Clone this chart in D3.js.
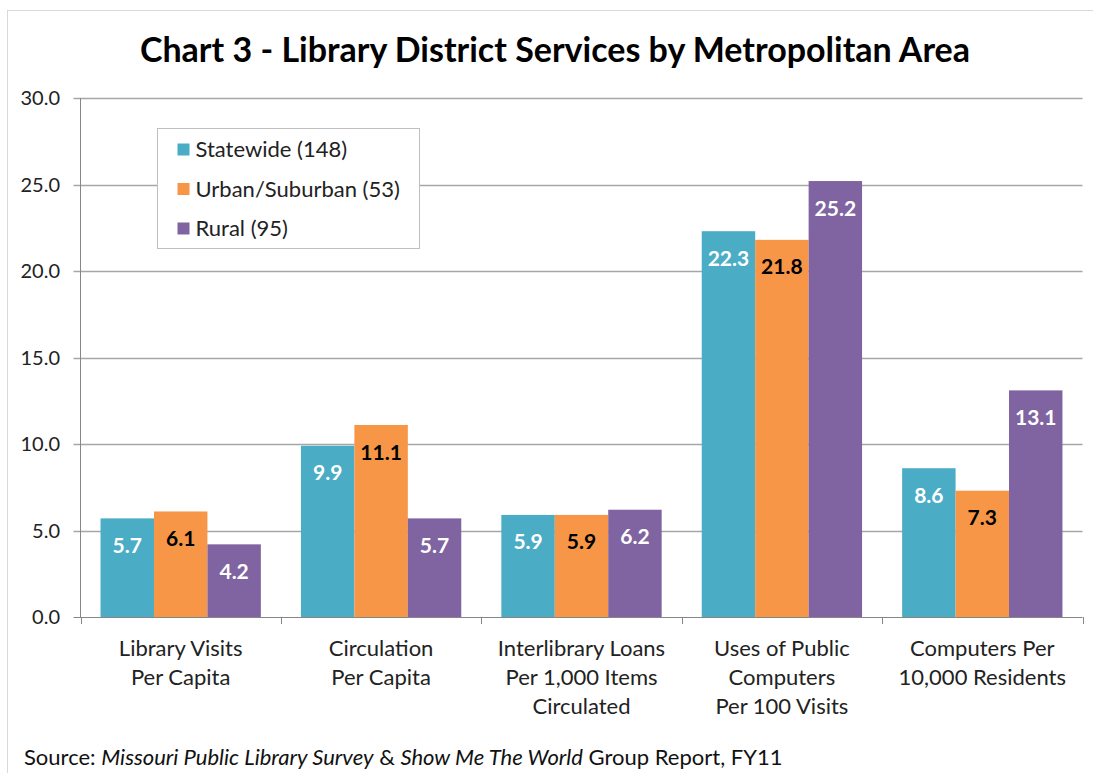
<!DOCTYPE html>
<html>
<head>
<meta charset="utf-8">
<script src="https://cdn.jsdelivr.net/npm/d3@7"></script>
<style>
  body { margin: 0; background: #fff; }
  svg text { font-family: Lato, "Open Sans", sans-serif; }
</style>
</head>
<body>
<script>
// chart data
var categories = [
    ["Library Visits", "Per Capita"],
    ["Circulation", "Per Capita"],
    ["Interlibrary Loans", "Per 1,000 Items", "Circulated"],
    ["Uses of Public", "Computers", "Per 100 Visits"],
    ["Computers Per", "10,000 Residents"]
];
var seriesNames = ["Statewide (148)", "Urban/Suburban (53)", "Rural (95)"];
var statewide = [5.7, 9.9, 5.9, 22.3, 8.6];
var urban = [6.1, 11.1, 5.9, 21.8, 7.3];
var rural = [4.2, 5.7, 6.2, 25.2, 13.1];
var yTicks = [0, 5, 10, 15, 20, 25, 30];

var colors = ["#4BACC6", "#F79646", "#8064A2"];
var labelColors = ["#fff", "#000", "#fff"];
var allSeries = [statewide, urban, rural];

var W = 1093, H = 773;
var plotLeft = 80.5, plotRight = 1082.5, plotTop = 98, plotBottom = 617;

var svg = d3.select("body").append("svg")
    .attr("width", W)
    .attr("height", H);

// outer border
svg.append("rect")
    .attr("x", 7.5).attr("y", 10.5)
    .attr("width", W).attr("height", H)
    .style("fill", "none")
    .style("stroke", "#d9d9d9");

// title
svg.append("text")
    .attr("x", 555).attr("y", 62)
    .attr("text-anchor", "middle")
    .style("font-size", "34px")
    .style("font-weight", "bold")
    .text("Chart 3 - Library District Services by Metropolitan Area");

var catKeys = categories.map(function (c, i) { return i; });

var x0 = d3.scaleBand()
    .domain(catKeys)
    .range([plotLeft, plotRight]);

var x1 = d3.scaleBand()
    .domain([0, 1, 2])
    .range([0, x0.bandwidth()])
    .paddingOuter(0.375);

var y = d3.scaleLinear()
    .domain([0, 30])
    .range([plotBottom, plotTop]);

// gridlines
svg.append("g").selectAll("line")
    .data(yTicks.slice(1))
    .enter().append("line")
    .attr("x1", plotLeft - 7).attr("x2", plotRight)
    .attr("y1", function (d) { return Math.round(y(d)) + 0.5; })
    .attr("y2", function (d) { return Math.round(y(d)) + 0.5; })
    .style("stroke", "#a6a6a6")
    .style("stroke-width", 1.3);

// y tick labels
svg.append("g").selectAll("text")
    .data(yTicks)
    .enter().append("text")
    .attr("x", 60)
    .attr("y", function (d) { return y(d); })
    .attr("dy", "0.36em")
    .attr("text-anchor", "end")
    .style("font-size", "20px")
    .style("fill", "#222")
    .text(function (d) { return d3.format(".1f")(d); });

// bars
var groups = svg.append("g").selectAll("g")
    .data(catKeys)
    .enter().append("g")
    .attr("transform", function (d) { return "translate(" + x0(d) + ",0)"; });

groups.selectAll("rect")
    .data(function (c) { return allSeries.map(function (s, i) { return {s: i, v: s[c]}; }); })
    .enter().append("rect")
    .attr("x", function (d) { return x1(d.s); })
    .attr("width", x1.bandwidth())
    .attr("y", function (d) { return y(d.v); })
    .attr("height", function (d) { return y(0) - y(d.v); })
    .style("fill", function (d) { return colors[d.s]; });

groups.selectAll("text")
    .data(function (c) { return allSeries.map(function (s, i) { return {s: i, v: s[c]}; }); })
    .enter().append("text")
    .attr("x", function (d) { return x1(d.s) + x1.bandwidth() / 2; })
    .attr("y", function (d) { return y(d.v) + 27; })
    .attr("dy", "0.36em")
    .attr("text-anchor", "middle")
    .style("font-size", "21px")
    .style("font-weight", "bold")
    .style("fill", function (d) { return labelColors[d.s]; })
    .text(function (d) { return d3.format(".1f")(d.v); });

// axes lines
svg.append("line")
    .attr("x1", plotLeft).attr("x2", plotLeft)
    .attr("y1", plotTop).attr("y2", plotBottom)
    .style("stroke", "#868686");
svg.append("line")
    .attr("x1", plotLeft - 7).attr("x2", plotRight)
    .attr("y1", plotBottom + 0.5).attr("y2", plotBottom + 0.5)
    .style("stroke", "#868686");

// category ticks
svg.append("g").selectAll("line")
    .data(catKeys.concat([catKeys.length]))
    .enter().append("line")
    .attr("x1", function (d) { return Math.round(plotLeft + d * x0.step()) + 0.5; })
    .attr("x2", function (d) { return Math.round(plotLeft + d * x0.step()) + 0.5; })
    .attr("y1", plotBottom).attr("y2", plotBottom + 7)
    .style("stroke", "#868686");

// category labels
var catLabels = svg.append("g").selectAll("text")
    .data(catKeys)
    .enter().append("text")
    .attr("text-anchor", "middle")
    .style("font-size", "22px")
    .style("fill", "#222");
catLabels.selectAll("tspan")
    .data(function (d) { return categories[d].map(function (t, i) { return {c: d, t: t, i: i}; }); })
    .enter().append("tspan")
    .attr("x", function (d) { return x0(d.c) + x0.bandwidth() / 2; })
    .attr("y", function (d) { return 656 + d.i * 29; })
    .text(function (d) { return d.t; });

// legend
var legend = svg.append("g").attr("transform", "translate(157.5,128.5)");
legend.append("rect")
    .attr("width", 262).attr("height", 120)
    .style("fill", "#fff")
    .style("stroke", "#bfbfbf");
var items = legend.selectAll("g.item")
    .data(seriesNames)
    .enter().append("g")
    .attr("class", "item")
    .attr("transform", function (d, i) { return "translate(20," + (21 + i * 39.5) + ")"; });
items.append("rect")
    .attr("x", 0).attr("y", -6)
    .attr("width", 12).attr("height", 12)
    .style("fill", function (d, i) { return colors[i]; });
items.append("text")
    .attr("x", 18).attr("dy", "0.36em")
    .style("font-size", "22px")
    .style("fill", "#222")
    .text(function (d) { return d; });

// source note
var src = svg.append("text")
    .attr("x", 24).attr("y", 765)
    .style("font-size", "22px")
    .style("fill", "#111");
src.append("tspan").text("Source: ");
src.append("tspan").style("font-style", "italic").text("Missouri Public Library Survey");
src.append("tspan").text(" & ");
src.append("tspan").style("font-style", "italic").text("Show Me The World");
src.append("tspan").text(" Group Report, FY11");
</script>
</body>
</html>
